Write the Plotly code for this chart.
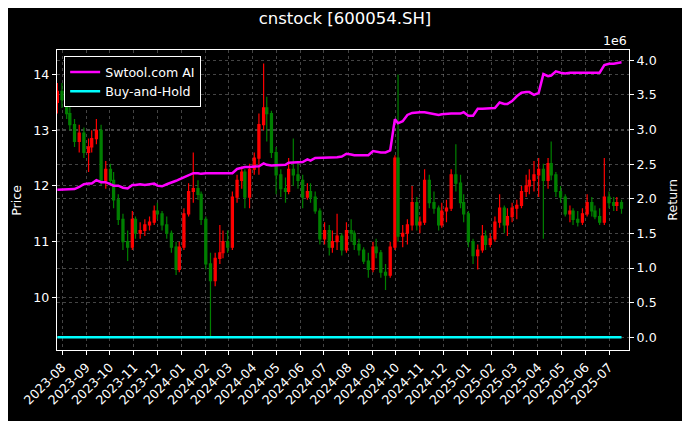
import numpy as np
import pandas as pd
import plotly.graph_objects as go

# ---- data (one candle per 4 trading days) ----
start_date = "2023-07-26"
first_open = 13.5
close = [13.7, 13.55, 13.3, 13.1, 12.8, 12.95, 12.6, 12.7, 12.85, 13.0,
         12.1, 12.3, 12.1, 11.75, 11.4, 11.0, 10.9, 11.4, 11.15, 11.2,
         11.3, 11.35, 11.55, 11.5, 11.3, 11.15, 10.9, 10.5, 10.9, 11.5,
         11.9, 11.95, 11.85, 11.4, 10.6, 10.3, 10.7, 10.8, 11.0, 10.9,
         11.8, 12.1, 12.25, 11.8, 12.3, 12.5, 13.1, 13.4, 13.3, 12.6,
         12.2, 11.95, 11.9, 12.3, 12.2, 12.1, 11.8, 11.9, 11.8, 11.55,
         11.05, 11.2, 10.9, 11.0, 11.1, 10.85, 11.2, 11.15, 10.95, 10.85,
         10.65, 10.5, 10.9, 10.8, 10.45, 10.4, 10.9, 12.5, 11.1, 11.15,
         11.3, 11.7, 11.3, 11.35, 12.1, 11.7, 11.6, 11.3, 11.55, 11.6,
         12.2, 12.05, 11.7, 11.5, 11.0, 10.75, 10.85, 11.1, 10.95, 11.05,
         11.35, 11.6, 11.3, 11.45, 11.6, 11.65, 11.9, 12.0, 12.1, 12.2,
         12.3, 12.1, 12.4, 12.2, 11.9, 11.8, 11.5, 11.55, 11.4, 11.35,
         11.5, 11.7, 11.55, 11.45, 11.35, 11.8, 11.7, 11.65, 11.7, 11.6]
high = [13.85, 13.85, 13.75, 13.5, 13.2, 13.1, 13.05, 12.85, 13.0, 13.2,
        13.1, 12.45, 12.4, 12.25, 11.85, 11.5, 11.2, 11.55, 11.45, 11.35,
        11.4, 11.45, 11.65, 11.7, 11.55, 11.45, 11.2, 11.0, 11.0, 11.6,
        12.05, 12.6, 12.1, 11.9, 11.45, 10.8, 10.8, 11.3, 11.2, 11.2,
        11.9, 12.2, 12.35, 12.3, 12.4, 12.6, 13.3, 14.2, 13.6, 13.35,
        12.7, 12.3, 12.15, 12.5, 12.85, 12.45, 12.2, 12.05, 12.05, 11.9,
        11.6, 11.35, 11.3, 11.2, 11.5, 11.15, 11.35, 11.4, 11.2, 11.05,
        10.9, 10.8, 11.0, 11.05, 10.85, 10.6, 11.0, 12.55, 14.0, 11.3,
        11.4, 12.0, 11.8, 11.45, 12.3, 12.2, 11.9, 11.65, 11.7, 11.75,
        12.3, 12.75, 12.2, 11.85, 11.55, 11.05, 10.95, 11.3, 11.2, 11.15,
        11.45, 11.85, 11.65, 11.6, 11.7, 11.75, 12.0, 12.2, 12.3, 12.45,
        12.5, 12.4, 12.5, 12.8, 12.25, 12.0, 11.85, 11.65, 11.6, 11.55,
        11.6, 11.85, 11.8, 11.65, 11.6, 12.5, 11.9, 11.8, 11.8, 11.75]
low = [13.3, 13.4, 13.2, 13.0, 12.7, 12.6, 12.5, 12.25, 12.6, 12.75,
       12.0, 11.95, 12.0, 11.6, 11.3, 10.85, 10.65, 10.85, 11.05, 11.05,
       11.1, 11.2, 11.3, 11.4, 11.2, 11.05, 10.8, 10.4, 10.45, 10.85,
       11.45, 11.7, 11.75, 11.3, 10.5, 9.3, 10.2, 10.6, 10.7, 10.8,
       10.85, 11.7, 11.95, 11.6, 11.6, 12.2, 12.2, 13.0, 12.8, 12.5,
       11.85, 11.8, 11.7, 11.85, 12.0, 11.95, 11.6, 11.75, 11.7, 11.5,
       10.95, 10.95, 10.75, 10.8, 10.85, 10.75, 10.8, 11.0, 10.85, 10.75,
       10.6, 10.35, 10.45, 10.7, 10.35, 10.13, 10.35, 10.85, 11.0, 10.9,
       10.95, 11.2, 11.2, 11.15, 11.3, 11.6, 11.5, 11.2, 11.25, 11.35,
       11.55, 11.9, 11.6, 11.35, 10.9, 10.6, 10.5, 10.8, 10.85, 10.9,
       11.0, 11.25, 11.15, 11.1, 11.35, 11.4, 11.6, 11.8, 11.85, 11.9,
       11.8, 11.05, 11.95, 12.1, 11.8, 11.7, 11.45, 11.35, 11.3, 11.27,
       11.3, 11.45, 11.45, 11.4, 11.3, 11.3, 11.6, 11.55, 11.55, 11.5]
# strategy equity (units of 1e6)
strategy = [2.13, 2.13, 2.13, 2.13, 2.14, 2.17, 2.21, 2.22, 2.22, 2.27,
            2.24, 2.24, 2.21, 2.19, 2.19, 2.16, 2.15, 2.20, 2.20, 2.21,
            2.20, 2.21, 2.22, 2.19, 2.18, 2.21, 2.23, 2.26, 2.28, 2.31,
            2.35, 2.37, 2.37, 2.36, 2.37, 2.37, 2.37, 2.36, 2.37, 2.37,
            2.37, 2.43, 2.45, 2.46, 2.46, 2.46, 2.47, 2.51, 2.49, 2.48,
            2.48, 2.48, 2.49, 2.52, 2.52, 2.52, 2.53, 2.57, 2.55, 2.59,
            2.59, 2.59, 2.59, 2.60, 2.60, 2.61, 2.65, 2.64, 2.63, 2.63,
            2.63, 2.63, 2.69, 2.68, 2.67, 2.67, 2.70, 3.15, 3.09, 3.12,
            3.21, 3.24, 3.25, 3.25, 3.25, 3.24, 3.23, 3.21, 3.22, 3.23,
            3.23, 3.23, 3.23, 3.25, 3.20, 3.20, 3.30, 3.30, 3.30, 3.31,
            3.31, 3.39, 3.37, 3.37, 3.41, 3.48, 3.53, 3.54, 3.54, 3.50,
            3.53, 3.80, 3.77, 3.78, 3.84, 3.82, 3.81, 3.82, 3.82, 3.82,
            3.82, 3.82, 3.82, 3.82, 3.82, 3.93, 3.95, 3.95, 3.96, 3.97]
ret_ticks = [0.0, 0.5, 1.0, 1.5, 2.0, 2.5, 3.0, 3.5, 4.0]
price_ticks = [10, 11, 12, 13, 14]

dates = pd.bdate_range(start=start_date, periods=len(close), freq="4B")
opens = [first_open] + close[:-1]
buy_hold = (np.array(close) / close[0] - 1.0) / 1e6  # fraction, in 1e6 units

FONT = "DejaVu Sans"
# the page body adds an 8px offset, so the figure is 8px smaller than the window
W, H = 682, 413
fig = go.Figure()
fig.add_trace(go.Candlestick(
    x=dates, open=opens, high=high, low=low, close=close,
    increasing=dict(line=dict(color="red", width=1.2), fillcolor="red"),
    decreasing=dict(line=dict(color="green", width=1.2), fillcolor="green"),
    showlegend=False, name="price"))
fig.add_trace(go.Scatter(x=dates, y=strategy, mode="lines", name="Swtool.com AI",
                         line=dict(color="#ff00ff", width=2.5), yaxis="y2"))
fig.add_trace(go.Scatter(x=dates, y=buy_hold, mode="lines", name="Buy-and-Hold",
                         line=dict(color="#00ffff", width=2.5), yaxis="y2"))

grid = "rgba(150,150,150,0.45)"
common = dict(ticks="outside", ticklen=4, tickcolor="white",
              showline=True, linecolor="white", linewidth=1.2,
              showgrid=True, gridcolor=grid, griddash="dot", gridwidth=0.8,
              zeroline=False, automargin=False)
fig.update_layout(
    width=W, height=H,
    paper_bgcolor="black", plot_bgcolor="black",
    font=dict(family=FONT, size=12.6, color="white"),
    margin=dict(l=49, r=61, t=42, b=71, autoexpand=False),
    title=dict(text="cnstock [600054.SH]", x=337 / W, xref="container", xanchor="center",
               y=1 - 10 / H, yref="container", yanchor="middle",
               font=dict(size=16.5, family=FONT, color="white")),
    boxgap=0.05,
    xaxis=dict(type="date", range=["2023-07-25 14:00", "2025-07-26 14:00"],
               rangeslider=dict(visible=False),
               tick0="2023-08-01", dtick="M1", tickformat="%Y-%m", tickangle=-45,
               mirror=True, **common),
    yaxis=dict(range=[9.054, 14.441], tickvals=price_ticks, **common),
    yaxis2=dict(overlaying="y", side="right", range=[-0.183, 4.148],
                tickvals=ret_ticks, ticktext=[f"{v:.1f}" for v in ret_ticks],
                **common),
    legend=dict(x=0.0125, y=0.979, xanchor="left", yanchor="top",
                bgcolor="black", bordercolor="white", borderwidth=1,
                font=dict(size=12.6, color="white", family=FONT),
                tracegroupgap=0, itemwidth=30),
    annotations=[
        dict(text="1e6", x=1.0, y=1.03, xref="paper", yref="paper",
             xanchor="right", yanchor="middle", showarrow=False,
             font=dict(size=12.6, color="white", family=FONT)),
        dict(text="Price", x=-0.072, y=0.5, xref="paper", yref="paper",
             textangle=-90, xanchor="center", yanchor="middle", showarrow=False,
             font=dict(size=12.6, color="white", family=FONT)),
        dict(text="Return", x=1.0747, y=0.5, xref="paper", yref="paper",
             textangle=-90, xanchor="center", yanchor="middle", showarrow=False,
             font=dict(size=12.6, color="white", family=FONT)),
    ],
)
fig.write_html("out.html")
